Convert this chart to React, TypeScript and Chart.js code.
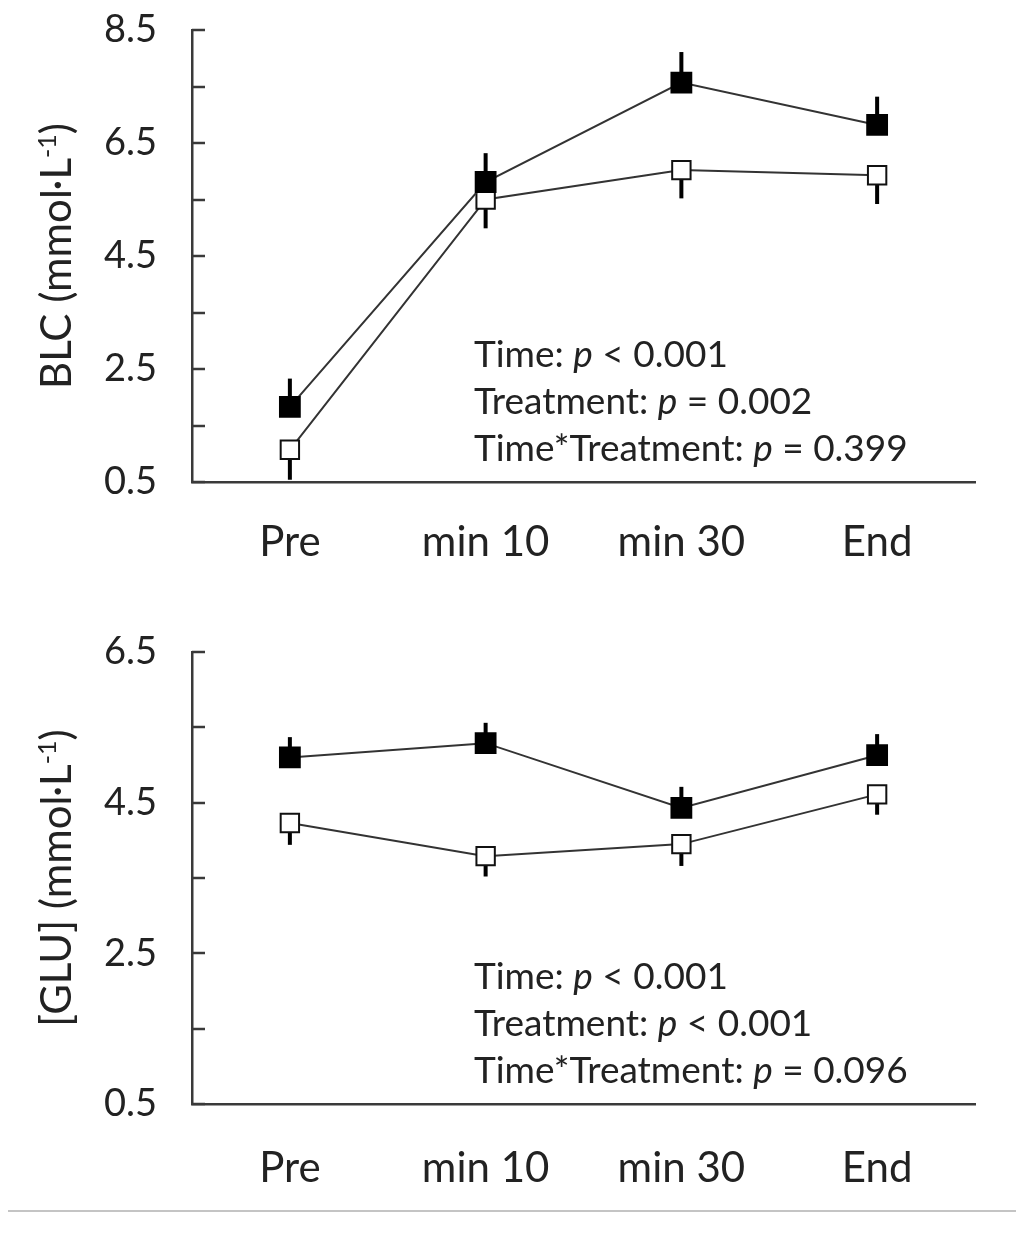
import React, { useEffect, useRef } from 'react';
import { Chart, registerables } from 'chart.js';

Chart.register(...registerables);

const categories = ['Pre', 'min 10', 'min 30', 'End'];

// Top panel: BLC
const blcFilled = [1.83, 5.81, 7.57, 6.82];
const blcFilledSD = [0.5, 0.51, 0.54, 0.5];
const blcOpen = [1.07, 5.5, 6.02, 5.93];
const blcOpenSD = [0.53, 0.51, 0.5, 0.51];
const blcTickLabels = [0.5, 2.5, 4.5, 6.5, 8.5];
const blcTickMarks = [0.5, 1.5, 2.5, 3.5, 4.5, 5.5, 6.5, 7.5, 8.5];
const blcTitle = ['BLC (mmol·L', '-1', ')'];
const blcStats = [
  ['Time: ', 'p', ' < 0.001'],
  ['Treatment: ', 'p', ' = 0.002'],
  ['Time*Treatment: ', 'p', ' = 0.399'],
];

// Bottom panel: GLU
const gluFilled = [5.1, 5.29, 4.43, 5.13];
const gluFilledSD = [0.27, 0.27, 0.28, 0.28];
const gluOpen = [4.23, 3.79, 3.95, 4.61];
const gluOpenSD = [0.29, 0.27, 0.29, 0.27];
const gluTickLabels = [0.5, 2.5, 4.5, 6.5];
const gluTickMarks = [0.5, 1.5, 2.5, 3.5, 4.5, 5.5, 6.5];
const gluTitle = ['[GLU] (mmol·L', '-1', ')'];
const gluStats = [
  ['Time: ', 'p', ' < 0.001'],
  ['Treatment: ', 'p', ' < 0.001'],
  ['Time*Treatment: ', 'p', ' = 0.096'],
];

const FONT = 'Lato';
const INK = '#222222';
const AXIS = '#3a3a3a';

const errorBarPlugin = {
  id: 'errorBars',
  beforeDatasetsDraw(chart: any) {
    const ctx = chart.ctx;
    const y = chart.scales.y;
    chart.data.datasets.forEach((ds: any, i: number) => {
      const meta = chart.getDatasetMeta(i);
      if (!ds.errors) return;
      ctx.save();
      ctx.strokeStyle = '#000';
      ctx.lineWidth = 4;
      ctx.lineCap = 'butt';
      meta.data.forEach((pt: any, j: number) => {
        const v = ds.data[j];
        const e = ds.errors[j];
        const y0 = y.getPixelForValue(v);
        const y1 = y.getPixelForValue(ds.errorDir > 0 ? v + e : v - e);
        ctx.beginPath();
        ctx.moveTo(pt.x, y0);
        ctx.lineTo(pt.x, y1);
        ctx.stroke();
      });
      ctx.restore();
    });
  },
};

const decorPlugin = {
  id: 'decor',
  afterDraw(chart: any, _args: any, opts: any) {
    const ctx = chart.ctx;
    const area = chart.chartArea;
    const y = chart.scales.y;
    // inward tick marks
    ctx.save();
    ctx.strokeStyle = AXIS;
    ctx.lineWidth = 2.5;
    (opts.tickMarks || []).forEach((v: number) => {
      const py = Math.round(y.getPixelForValue(v));
      ctx.beginPath();
      ctx.moveTo(area.left, py);
      ctx.lineTo(area.left + 13, py);
      ctx.stroke();
    });
    ctx.restore();

    // rotated y title with superscript
    const [main, sup, tail] = opts.title;
    ctx.save();
    ctx.fillStyle = INK;
    ctx.textBaseline = 'alphabetic';
    ctx.textAlign = 'left';
    const big = `42px ${FONT}`;
    const small = `25px ${FONT}`;
    ctx.font = big;
    const w1 = ctx.measureText(main).width;
    const w3 = ctx.measureText(tail).width;
    ctx.font = small;
    const w2 = ctx.measureText(sup).width;
    const total = w1 + w2 + w3;
    ctx.translate(71, (area.top + area.bottom) / 2);
    ctx.rotate(-Math.PI / 2);
    let x = -total / 2;
    ctx.font = big;
    ctx.fillText(main, x, 0);
    x += w1;
    ctx.font = small;
    ctx.fillText(sup, x, -15);
    x += w2;
    ctx.font = big;
    ctx.fillText(tail, x, 0);
    ctx.restore();

    // statistics annotation
    ctx.save();
    ctx.fillStyle = INK;
    ctx.textBaseline = 'alphabetic';
    ctx.textAlign = 'left';
    (opts.stats || []).forEach((line: string[], k: number) => {
      let tx = area.left + 282;
      const ty = area.top + 337 + k * 47;
      line.forEach((seg: string, s: number) => {
        ctx.font = s === 1 ? `italic 37px ${FONT}` : `37px ${FONT}`;
        ctx.fillText(seg, tx, ty);
        tx += ctx.measureText(seg).width;
      });
    });
    ctx.restore();
  },
};

function makeConfig(
  filled: number[], filledSD: number[], open: number[], openSD: number[],
  tickLabels: number[], tickMarks: number[], title: string[], stats: string[][],
  topPad: number, xHeight: number, xPad: number
): any {
  return {
    type: 'line',
    data: {
      labels: categories,
      datasets: [
        {
          data: filled,
          errors: filledSD,
          errorDir: 1,
          borderColor: '#333',
          borderWidth: 2,
          pointStyle: 'rect',
          pointRadius: 14,
          pointBackgroundColor: '#000',
          pointBorderColor: '#000',
          pointBorderWidth: 2,
          tension: 0,
          fill: false,
        },
        {
          data: open,
          errors: openSD,
          errorDir: -1,
          borderColor: '#333',
          borderWidth: 2,
          pointStyle: 'rect',
          pointRadius: 13,
          pointBackgroundColor: '#fff',
          pointBorderColor: '#111',
          pointBorderWidth: 2,
          tension: 0,
          fill: false,
        },
      ],
    },
    options: {
      animation: false,
      responsive: false,
      devicePixelRatio: 1,
      layout: { padding: { top: topPad, right: 49, left: 0, bottom: 0 } },
      plugins: {
        legend: { display: false },
        tooltip: { enabled: false },
        decor: { tickMarks, title, stats },
      },
      scales: {
        x: {
          type: 'category',
          offset: true,
          grid: { display: true, drawOnChartArea: false, drawTicks: false },
          border: { display: true, color: AXIS, width: 2.5 },
          ticks: { color: INK, font: { family: FONT, size: 42 }, padding: xPad, maxRotation: 0 },
          afterFit(scale: any) {
            scale.height = xHeight;
            scale.paddingLeft = 0;
            scale.paddingRight = 0;
          },
        },
        y: {
          type: 'linear',
          min: tickLabels[0],
          max: tickLabels[tickLabels.length - 1],
          grid: { display: true, drawOnChartArea: false, drawTicks: false },
          border: { display: true, color: AXIS, width: 2.5 },
          ticks: {
            color: INK,
            font: { family: FONT, size: 38 },
            padding: 35,
            callback: (v: number) => Number(v).toFixed(1),
          },
          afterBuildTicks(scale: any) {
            scale.ticks = tickLabels.map((v) => ({ value: v }));
          },
          afterFit(scale: any) {
            scale.width = 192;
            scale.paddingTop = 0;
            scale.paddingBottom = 0;
          },
        },
      },
    },
    plugins: [errorBarPlugin, decorPlugin],
  };
}

function Panel(props: { cfg: any; top: number; height: number }) {
  const ref = useRef<HTMLCanvasElement | null>(null);
  useEffect(() => {
    if (!ref.current) return;
    const chart = new Chart(ref.current, props.cfg);
    return () => chart.destroy();
  }, []);
  return (
    <canvas
      ref={ref}
      width={1024}
      height={props.height}
      style={{ position: 'absolute', left: 0, top: props.top, width: 1024, height: props.height }}
    />
  );
}

export default function App() {
  const topCfg = makeConfig(blcFilled, blcFilledSD, blcOpen, blcOpenSD, blcTickLabels, blcTickMarks, blcTitle, blcStats, 30, 128, 35);
  const botCfg = makeConfig(gluFilled, gluFilledSD, gluOpen, gluOpenSD, gluTickLabels, gluTickMarks, gluTitle, gluStats, 32, 116, 39);
  return (
    <div style={{ position: 'absolute', left: 0, top: 0, width: 1024, height: 1239, background: '#fff', overflow: 'hidden' }}>
      <Panel cfg={topCfg} top={0} height={610} />
      <Panel cfg={botCfg} top={620} height={600} />
      <div style={{ position: 'absolute', left: 8, top: 1210, width: 1008, height: 2, background: '#c4c4c4' }} />
    </div>
  );
}
